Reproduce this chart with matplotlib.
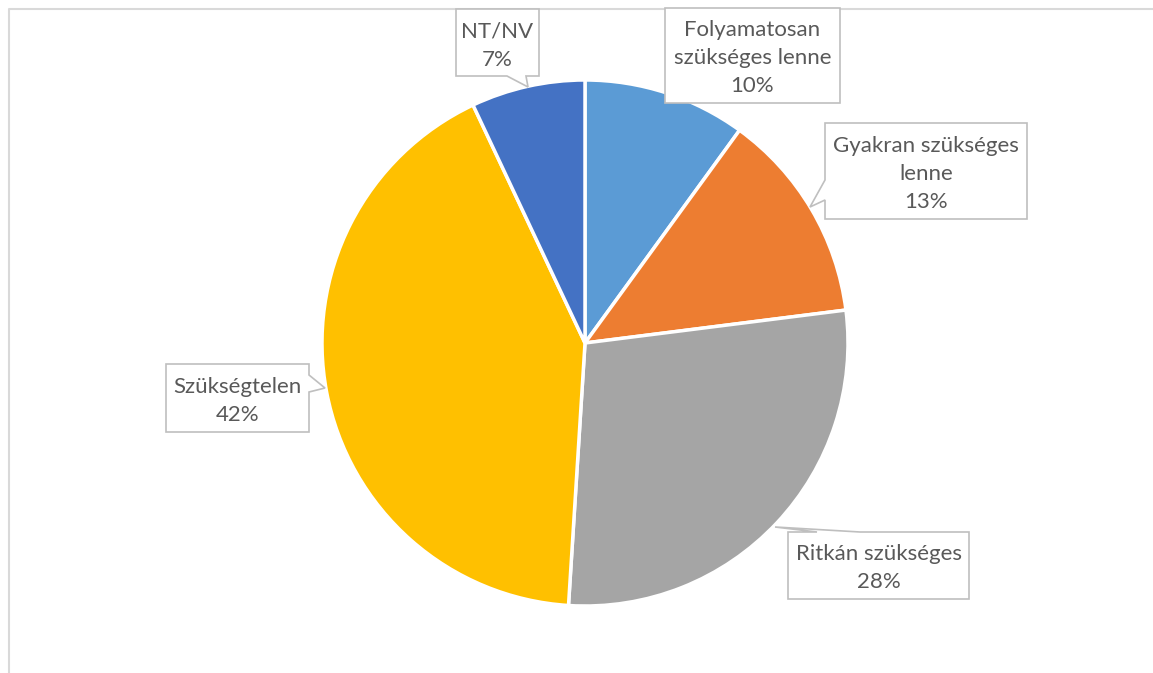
import matplotlib.pyplot as plt
from matplotlib.patches import Polygon

categories = [
    "Folyamatosan\nszükséges lenne",
    "Gyakran szükséges\nlenne",
    "Ritkán szükséges",
    "Szükségtelen",
    "NT/NV",
]
shares = [10, 13, 28, 42, 7]
colors = ["#5B9BD5", "#ED7D31", "#A5A5A5", "#FFC000", "#4472C4"]

W, H = 1153, 673
TEXT = "#595959"
EDGE = "#BFBFBF"

# callout boxes in image pixels: (x0, y0, x1, y1), tail (side, a, b, tip)
callouts = [
    ((665, 8, 840, 103), None),
    ((825, 123, 1027, 219), ("left", 180, 200, (810, 207))),
    ((788, 532, 969, 599), ("top", 817, 860, (775, 527))),
    ((166, 364, 309, 432), ("right", 375, 392, (325, 388))),
    ((456, 9, 539, 76), ("bottom", 507, 526, (528, 87))),
]


def flip(x, y):
    return (x, H - y)


def callout_shape(box, tail):
    x0, y0, x1, y1 = box
    pts = [(x0, y0)]
    # walk clockwise in image coords: top, right, bottom, left
    if tail and tail[0] == "top":
        pts += [(tail[1], y0), tail[3], (tail[2], y0)]
    pts.append((x1, y0))
    if tail and tail[0] == "right":
        pts += [(x1, tail[1]), tail[3], (x1, tail[2])]
    pts.append((x1, y1))
    if tail and tail[0] == "bottom":
        pts += [(tail[2], y1), tail[3], (tail[1], y1)]
    pts.append((x0, y1))
    if tail and tail[0] == "left":
        pts += [(x0, tail[2]), tail[3], (x0, tail[1])]
    return [flip(*p) for p in pts]


fig = plt.figure(figsize=(W / 100, H / 100), dpi=100)
ax = fig.add_axes([0, 0, 1, 1])

# outer chart frame (only top and left visible)
ax.plot([8.5, 8.5, W], [0, H - 8.5, H - 8.5], color="#D9D9D9", lw=1.5)

ax.pie(
    shares,
    colors=colors,
    startangle=90,
    counterclock=False,
    center=flip(585, 343),
    radius=263,
    wedgeprops=dict(edgecolor="white", linewidth=2.5),
    frame=True,
)
ax.set_xlim(0, W)
ax.set_ylim(0, H)
ax.set_aspect("equal")
ax.axis("off")

for label, share, (box, tail) in zip(categories, shares, callouts):
    ax.add_patch(Polygon(callout_shape(box, tail), closed=True,
                         facecolor="white", edgecolor=EDGE, lw=1.2, zorder=5))
    cx = (box[0] + box[2]) / 2
    cy = (box[1] + box[3]) / 2 + 3
    ax.text(*flip(cx, cy), f"{label}\n{share}%", ha="center", va="center",
            color=TEXT, fontsize=16, family="Lato", linespacing=1.5, zorder=6)

fig.savefig("out.png", dpi=100)
